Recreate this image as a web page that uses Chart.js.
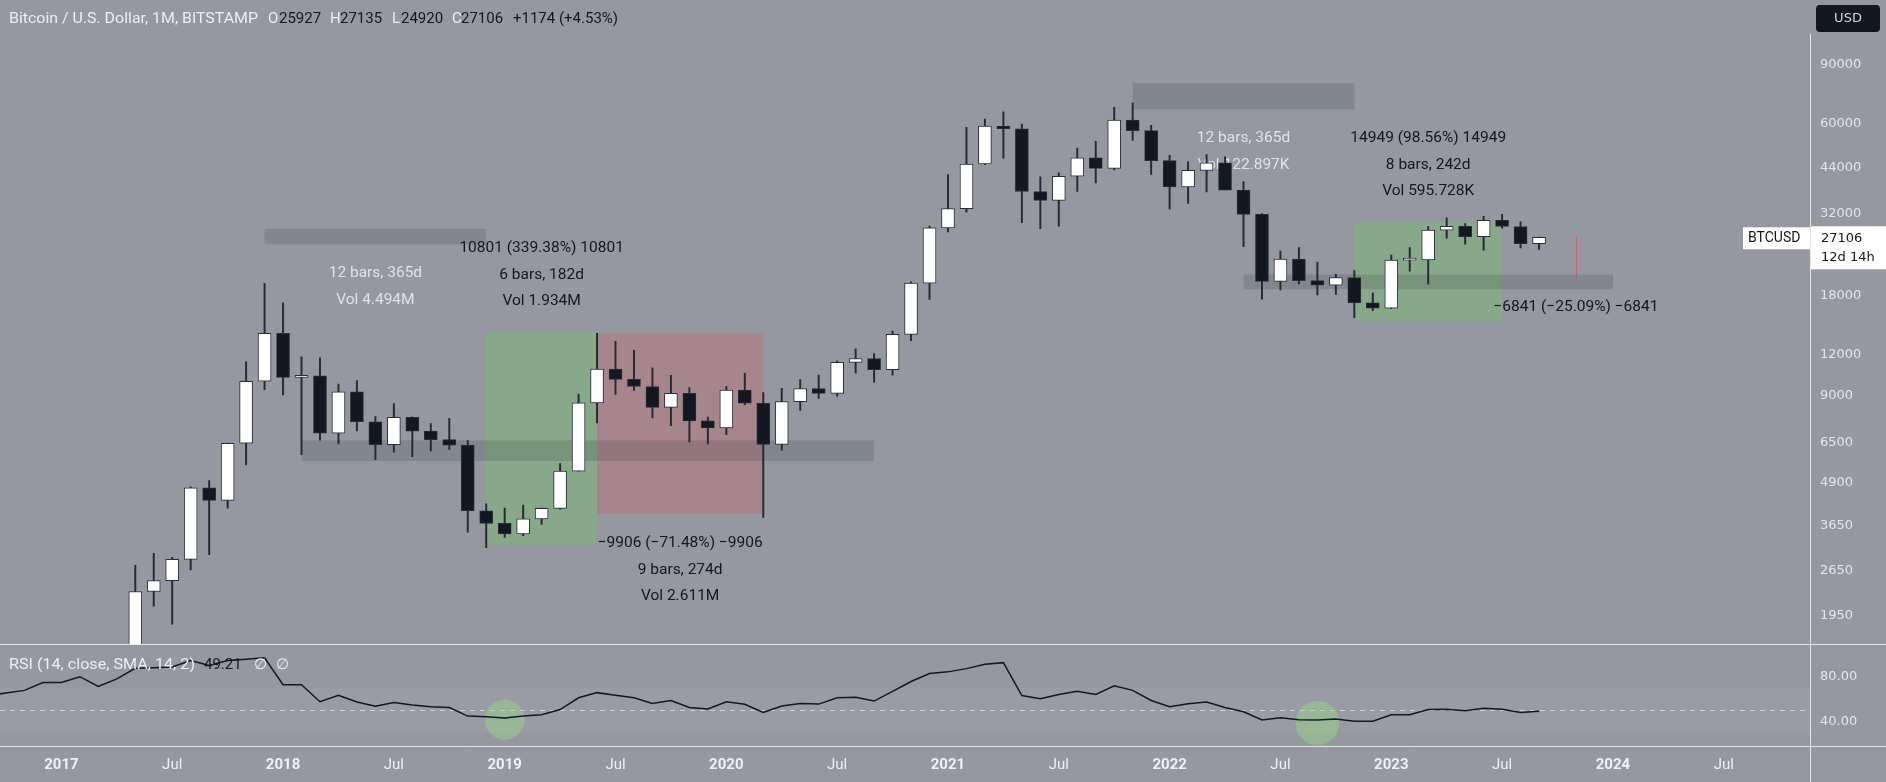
<!DOCTYPE html>
<html><head><meta charset="utf-8">
<script src="https://cdn.jsdelivr.net/npm/chart.js@4.4.1/dist/chart.umd.min.js"></script>
<style>html,body{margin:0;padding:0;background:#9598a1;overflow:hidden}#wrap{width:1886px;height:782px}</style>
</head><body><div id="wrap"><canvas id="c" width="1886" height="782"></canvas></div>
<script>
// ---------- data ----------
const months = ['2017-05','2017-06','2017-07','2017-08','2017-09','2017-10','2017-11','2017-12',
'2018-01','2018-02','2018-03','2018-04','2018-05','2018-06','2018-07','2018-08','2018-09','2018-10','2018-11','2018-12',
'2019-01','2019-02','2019-03','2019-04','2019-05','2019-06','2019-07','2019-08','2019-09','2019-10','2019-11','2019-12',
'2020-01','2020-02','2020-03','2020-04','2020-05','2020-06','2020-07','2020-08','2020-09','2020-10','2020-11','2020-12',
'2021-01','2021-02','2021-03','2021-04','2021-05','2021-06','2021-07','2021-08','2021-09','2021-10','2021-11','2021-12',
'2022-01','2022-02','2022-03','2022-04','2022-05','2022-06','2022-07','2022-08','2022-09','2022-10','2022-11','2022-12',
'2023-01','2023-02','2023-03','2023-04','2023-05','2023-06','2023-07','2023-08','2023-09'];
const opens  = [1348,2300,2480,2875,4735,4338,6458,9946, 13880,10221,10326,6926,9246,7502,6398,7735,7025,6626,6371,4035,
3695,3434,3815,4104,5320,8555,10820,10080,9590,8290,9150,7550, 7190,9350,8530,6410,8630,9450,9140,11340,11650,10780,13790,19700,
28950,33100,45160,58790,57720,37300,35040,41460,47130,43830,61310,56980, 46210,38480,43180,45530,37650,31800,19940,23300,20050,19430,20490,17170,
16540,23130,23150,28480,29250,27220,30480,29230,25927];
const highs  = [2760,2999,2916,4770,4980,6470,11395,19666, 17176,11789,11704,9759,10000,7776,8507,7760,7407,7680,6580,4236,
4110,4198,4110,5600,9090,13880,13130,12330,10920,10370,9510,7750, 9580,10500,9185,9460,10070,10380,11440,12470,12060,14100,19880,29300,
41950,58350,61780,64900,59590,41320,42450,50500,52920,67000,69000,59100, 47990,45820,48200,47450,39950,31990,24670,25210,22790,20990,21480,18390,
23960,25250,29190,31050,29820,31390,31820,30210,27135];
const lows   = [1348,2076,1830,2671,2972,4110,5555,9380, 9035,5968,6600,6430,7036,5755,6070,5880,6118,6181,3474,3122,
3350,3390,3670,4080,5320,7440,9070,9330,7710,7300,6520,6420, 6850,8450,3850,6150,8110,8830,8970,10520,9880,10380,13200,17580,
28130,32300,44950,47000,30000,28800,29280,37330,39600,43300,53250,42000, 32950,34320,37170,37700,25400,17600,18800,19600,18150,18200,15480,16260,
16500,21400,19550,26940,25820,24760,28860,25170,24920];
const closes = [2300,2480,2875,4735,4338,6458,9946,13880, 10221,10326,6926,9246,7502,6398,7735,7025,6626,6371,4035,3695,
3434,3815,4104,5320,8555,10820,10080,9590,8290,9150,7550,7190, 9350,8530,6410,8630,9450,9140,11340,11650,10780,13790,19700,28950,
33100,45160,58790,57720,37300,35040,41460,47130,43830,61310,56980,46210, 38480,43180,45530,37650,31800,19940,23300,20050,19430,20490,17170,16540,
23130,23150,28480,29250,27220,30480,29230,25930,27106];

const rsiStart = '2016-09';
const rsiValues = [63,65.5,67.8,74.8,
74.8,80,71.3,78,87.5,88,88.7,94.5,90,94.5,95.5,96.8,
72.8,72.8,57.7,63.5,57.4,53.6,57.1,54.8,53.3,52.5,44.9,44.3,
43.2,44.9,46.1,50.7,61.2,65.8,63.5,61.2,56.2,58.8,52.5,51.3,
57.7,55.4,48.1,53.9,56.2,55.6,61.2,61.7,58.3,67,75.7,82.9,
84.3,87.2,91,92.5,63.2,60.3,64.1,67,64.1,71.9,67.8,58.8,
53.3,55.9,57.4,52.5,48.7,41.4,43.5,41.7,41.4,42.3,40.3,40.3,
46.1,46.1,50.7,51,49.6,51.9,51,48.1,49.2];

const priceTicks = [1950,2650,3650,4900,6500,9000,12000,18000,32000,44000,60000,90000];
const rsiTicks = [40,80];
const timeTickMonths = ['2017-01','2017-07','2018-01','2018-07','2019-01','2019-07','2020-01','2020-07',
'2021-01','2021-07','2022-01','2022-07','2023-01','2023-07','2024-01','2024-07'];
const timeTickLabels = ['2017','Jul','2018','Jul','2019','Jul','2020','Jul','2021','Jul','2022','Jul','2023','Jul','2024','Jul'];

const lastPrice = 27106;

// ---------- helpers ----------
function mIdx(s){ const [y,m] = s.split('-').map(Number); return (y-2017)*12 + (m-1); }
const candleX = months.map(mIdx);
const rsiX0 = mIdx(rsiStart);

const BG = '#9598a1';
const DARK = '#131722';
const LIGHT = '#eceef2';
const FONT = 'Roboto';

// drawings (data coordinates: x = month index, prices)
const greyBands = [
  {x0:11, x1:23, p0:25830, p1:28790},
  {x0:13, x1:44, p0:5707, p1:6589},
  {x0:58, x1:70, p0:65990, p1:79290},
  {x0:64, x1:84, p0:18880, p1:20920}
];
const dateLabels = [
  {band:0, lines:['12 bars, 365d','Vol 4.494M']},
  {band:2, lines:['12 bars, 365d','Vol 122.897K']}
];
const priceRanges = [
  {x0:23, x1:29, lo:3182.6, hi:13983.6, up:true,  fill:'rgba(121,186,113,0.5)', lines:['10801 (339.38%) 10801','6 bars, 182d','Vol 1.934M']},
  {x0:29, x1:38, lo:3952, hi:13858, up:false, fill:'rgba(186,114,120,0.5)', lines:['\u22129906 (\u221271.48%) \u22129906','9 bars, 274d','Vol 2.611M']},
  {x0:70, x1:78, lo:15167.5, hi:30116.5, up:true, fill:'rgba(121,186,113,0.5)', lines:['14949 (98.56%) 14949','8 bars, 242d','Vol 595.728K']},
  {x0:82, x1:82, lo:20425, hi:27266, up:false, fill:null, lines:['\u22126841 (\u221225.09%) \u22126841']}
];
const rsiCircles = [{x:24, v:41.7, r:20}, {x:68, v:38.7, r:22}];

function txt(ctx, s, x, y, font, color, align){
  ctx.font = font; ctx.fillStyle = color; ctx.textAlign = align || 'left'; ctx.textBaseline = 'middle';
  ctx.fillText(s, x, y);
}
// draw text stretched to a given width (left aligned)
function fitTxt(ctx, s, x, y, font, color, width){
  ctx.save();
  ctx.font = font; ctx.fillStyle = color; ctx.textAlign = 'left'; ctx.textBaseline = 'middle';
  const w = ctx.measureText(s).width;
  ctx.translate(x, y); ctx.scale(width / w, 1);
  ctx.fillText(s, 0, 0);
  ctx.restore();
}

const plugin = {
  id: 'tv',
  beforeDraw(chart){
    const ctx = chart.ctx; ctx.save(); ctx.fillStyle = BG; ctx.fillRect(0,0,chart.width,chart.height); ctx.restore();
  },
  beforeDatasetsDraw(chart){
    const ctx = chart.ctx, X = chart.scales.x, Y = chart.scales.y, R = chart.scales.yr;
    const right = X.right;
    ctx.save();
    // RSI band & middle line
    const r70 = R.getPixelForValue(70), r30 = R.getPixelForValue(30), r50 = R.getPixelForValue(50);
    ctx.fillStyle = 'rgba(255,255,255,0.045)';
    ctx.fillRect(0, r70, right, r30 - r70);
    ctx.strokeStyle = 'rgba(255,255,255,0.55)'; ctx.lineWidth = 1; ctx.setLineDash([5,5]);
    ctx.beginPath(); ctx.moveTo(0, Math.round(r50)+0.5); ctx.lineTo(right, Math.round(r50)+0.5); ctx.stroke();
    ctx.setLineDash([]);
    // RSI circles
    ctx.fillStyle = 'rgba(150,222,130,0.42)';
    rsiCircles.forEach(c => { ctx.beginPath(); ctx.arc(X.getPixelForValue(c.x), R.getPixelForValue(c.v), c.r, 0, Math.PI*2); ctx.fill(); });
    // clip price pane
    ctx.beginPath(); ctx.rect(0, Y.top, right, Y.bottom - Y.top); ctx.clip();
    // price ranges fills
    priceRanges.forEach(p => {
      const xa = X.getPixelForValue(p.x0), xb = X.getPixelForValue(p.x1);
      const ya = Y.getPixelForValue(p.hi), yb = Y.getPixelForValue(p.lo);
      if (p.fill){ ctx.fillStyle = p.fill; ctx.fillRect(xa, ya, xb - xa, yb - ya); }
      else { ctx.strokeStyle = 'rgba(242,54,69,0.45)'; ctx.lineWidth = 1; ctx.beginPath(); ctx.moveTo(Math.round(xa)+0.5, ya); ctx.lineTo(Math.round(xa)+0.5, yb); ctx.stroke(); }
    });
    // grey bands
    ctx.fillStyle = 'rgba(42,46,57,0.17)';
    greyBands.forEach(b => {
      const xa = X.getPixelForValue(b.x0), xb = X.getPixelForValue(b.x1);
      const ya = Y.getPixelForValue(b.p1), yb = Y.getPixelForValue(b.p0);
      ctx.fillRect(xa, ya, xb - xa, yb - ya);
    });
    // texts of price ranges
    const f = '15.5px ' + FONT;
    priceRanges.forEach(p => {
      const cx = (X.getPixelForValue(p.x0) + X.getPixelForValue(p.x1)) / 2;
      if (p.up){
        const top = Y.getPixelForValue(p.hi);
        p.lines.forEach((s,i) => txt(ctx, s, cx, top - 84 + i*26.5, f, DARK, 'center'));
      } else {
        const bot = Y.getPixelForValue(p.lo);
        p.lines.forEach((s,i) => txt(ctx, s, cx, bot + 29.5 + i*26.5, f, DARK, 'center'));
      }
    });
    // date range labels
    dateLabels.forEach(d => {
      const b = greyBands[d.band];
      const cx = (X.getPixelForValue(b.x0) + X.getPixelForValue(b.x1)) / 2;
      const bot = Y.getPixelForValue(b.p0);
      d.lines.forEach((s,i) => txt(ctx, s, cx, bot + 29 + i*26.7, f, 'rgba(236,238,242,0.85)', 'center'));
    });
    ctx.restore();
  },
  afterDraw(chart){
    const ctx = chart.ctx, X = chart.scales.x, Y = chart.scales.y;
    ctx.save();
    // separators
    ctx.strokeStyle = '#e4e6ea'; ctx.lineWidth = 1;
    ctx.beginPath();
    ctx.moveTo(0, Math.round(Y.bottom)+0.5); ctx.lineTo(chart.width, Math.round(Y.bottom)+0.5);
    ctx.moveTo(0, Math.round(X.top)+0.5); ctx.lineTo(chart.width, Math.round(X.top)+0.5);
    ctx.moveTo(Math.round(Y.left)+0.5, 34); ctx.lineTo(Math.round(Y.left)+0.5, chart.height);
    ctx.stroke();
    // header
    const hf = '15px ' + FONT;
    fitTxt(ctx, 'Bitcoin / U.S. Dollar, 1M, BITSTAMP', 9, 19, hf, LIGHT, 249);
    [['O',268,LIGHT],['25927',279,DARK],['H',330,LIGHT],['27135',340,DARK],['L',392,LIGHT],['24920',401,DARK],
     ['C',452,LIGHT],['27106',461,DARK],['+1174 (+4.53%)',513,DARK]].forEach(a => txt(ctx, a[0], a[1], 19, hf, a[2]));
    // RSI header
    fitTxt(ctx, 'RSI (14, close, SMA, 14, 2)', 9, 665, hf, LIGHT, 186);
    txt(ctx, '49.21', 204, 665, hf, DARK);
    txt(ctx, '\u2205', 254, 665, hf, LIGHT);
    txt(ctx, '\u2205', 276, 665, hf, LIGHT);
    // USD button
    ctx.fillStyle = DARK;
    ctx.beginPath(); ctx.roundRect(1816, 5, 64, 27, 4); ctx.fill();
    txt(ctx, 'USD', 1848, 19, '13px "DejaVu Sans"', '#d1d4dc', 'center');
    // last price tag
    const yy = Y.getPixelForValue(lastPrice);
    ctx.fillStyle = '#ffffff';
    ctx.fillRect(Y.left + 1, yy - 11, chart.width - Y.left - 1, 43);
    ctx.fillRect(1743, yy - 10, Y.left - 1743, 22);
    txt(ctx, 'BTCUSD', 1748, yy + 1, '14px ' + FONT, DARK);
    txt(ctx, String(lastPrice), 1821, yy + 1, '13px "DejaVu Sans"', DARK);
    txt(ctx, '12d 14h', 1821, yy + 20, '13px "DejaVu Sans"', DARK);
    ctx.restore();
  }
};

const bodyColors = closes.map((c,i) => c >= opens[i] ? '#ffffff' : DARK);

new Chart(document.getElementById('c'), {
  type: 'bar',
  data: {
    datasets: [
      { type:'bar', label:'wick', yAxisID:'y', xAxisID:'x', order:3, grouped:false, barThickness:1.3,
        data: candleX.map((x,i) => ({x, y:[lows[i], highs[i]]})), backgroundColor:'#262a33', clip:0 },
      { type:'bar', label:'body', yAxisID:'y', xAxisID:'x', order:2, grouped:false, barThickness:13, minBarLength:2,
        data: candleX.map((x,i) => ({x, y:[opens[i], closes[i]]})), backgroundColor: bodyColors,
        borderColor:'#2a2e39', borderWidth:1, borderSkipped:false, clip:0 },
      { type:'line', label:'RSI', yAxisID:'yr', xAxisID:'x', order:1,
        data: rsiValues.map((v,i) => ({x: rsiX0 + i, y: v})), borderColor:'#131722', borderWidth:1.5,
        pointRadius:0, tension:0, clip:0 }
    ]
  },
  options: {
    responsive:false, animation:false, events:[], devicePixelRatio:1,
    layout:{padding:0},
    plugins:{legend:{display:false}, tooltip:{enabled:false}, title:{display:false}},
    scales:{
      x:{ type:'linear', position:'bottom', min:-3.324, max:94.67, bounds:'data', offset:false,
          grid:{display:false, drawTicks:false}, border:{display:false},
          afterBuildTicks: s => { s.ticks = timeTickMonths.map(m => ({value: mIdx(m)})); },
          afterFit: s => { s.height = 36; },
          ticks:{ autoSkip:false, maxRotation:0, padding:10, color:'#eef0f3',
                  callback:(v,i) => timeTickLabels[i],
                  font: c => ({family:FONT, size:15, weight: (c.index % 2 === 0) ? 'bold' : 'normal'}) } },
      y:{ type:'logarithmic', position:'right', stack:'pane', stackWeight:642, min:1589.8, max:125030, bounds:'data',
          grid:{display:false, drawTicks:false}, border:{display:false},
          afterBuildTicks: s => { s.ticks = priceTicks.map(v => ({value:v})); },
          afterFit: s => { s.width = 76; },
          ticks:{ autoSkip:false, padding:10, color:'#e3e5ea', font:{family:'DejaVu Sans', size:13},
                  callback: v => String(v) } },
      yr:{ type:'linear', position:'right', stack:'pane', stackWeight:104, min:18.26, max:108.7, bounds:'data',
          grid:{display:false, drawTicks:false}, border:{display:false},
          afterBuildTicks: s => { s.ticks = rsiTicks.map(v => ({value:v})); },
          afterFit: s => { s.width = 76; },
          ticks:{ autoSkip:false, padding:10, color:'#e3e5ea', font:{family:'DejaVu Sans', size:13},
                  callback: v => Number(v).toFixed(2) } }
    }
  },
  plugins:[plugin]
});
</script>
</body></html>
